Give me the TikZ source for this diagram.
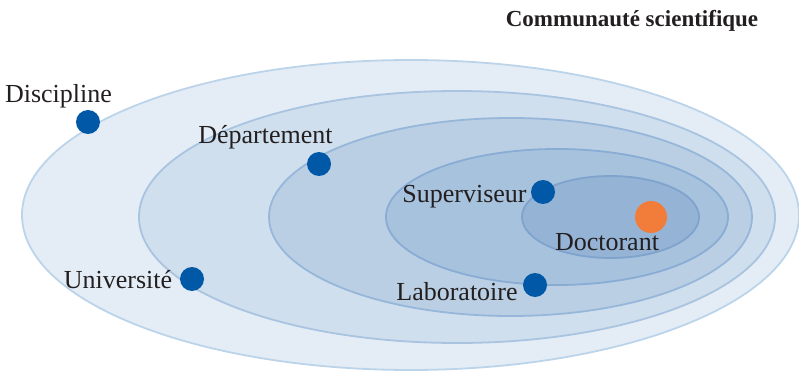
\documentclass[tikz,border=0pt]{standalone}
\usepackage{fontspec}
\setmainfont{Liberation Serif}
\definecolor{f1}{HTML}{E4EDF6}
\definecolor{f2}{HTML}{CFDFED}
\definecolor{f3}{HTML}{BACFE4}
\definecolor{f4}{HTML}{A7C2DD}
\definecolor{f5}{HTML}{95B4D5}
\definecolor{e1}{HTML}{BCD4EA}
\definecolor{e2}{HTML}{A9C4E0}
\definecolor{e3}{HTML}{97B7DA}
\definecolor{e4}{HTML}{88ACD4}
\definecolor{e5}{HTML}{7FA3CD}
\definecolor{dotblue}{HTML}{0058A7}
\definecolor{dotorange}{HTML}{F27C3A}
\definecolor{txt}{HTML}{231F20}
\tikzset{
  ring/.style={line width=1.8pt},
  bluedot/.style={circle, fill=dotblue, minimum size=24pt, inner sep=0pt},
  orangedot/.style={circle, fill=dotorange, minimum size=32pt, inner sep=0pt},
  lbl/.style={inner sep=0pt, text=txt, font=\fontsize{26}{29}\selectfont},
  ttl/.style={inner sep=0pt, text=txt, font=\fontsize{23}{26}\selectfont\bfseries}
}
\begin{document}
\begin{tikzpicture}[x=1pt,y=-1pt]
\useasboundingbox (0,0) rectangle (799,371);
\fill[white] (0,0) rectangle (799,371);
\filldraw[ring, fill=f1, draw=e1] (410.5,215) ellipse [x radius=388.5, y radius=155];
\filldraw[ring, fill=f2, draw=e2] (457,217) ellipse [x radius=318, y radius=126];
\filldraw[ring, fill=f3, draw=e3] (510.5,217) ellipse [x radius=241.5, y radius=99];
\filldraw[ring, fill=f4, draw=e4] (557,217) ellipse [x radius=171, y radius=68];
\filldraw[ring, fill=f5, draw=e5] (610.5,217) ellipse [x radius=88.5, y radius=41];

\node[bluedot] (ddisc) at (88,122) {};
\node[bluedot] (ddep) at (319,164) {};
\node[bluedot] (duniv) at (192,279) {};
\node[bluedot] (dsup) at (543,192) {};
\node[bluedot] (dlab) at (535,285) {};
\node[orangedot] (ddoc) at (651,217) {};

\node[lbl] (ldisc) at (58.5,96) {Discipline};
\node[lbl] (ldep) at (265.5,137) {Département};
\node[lbl] (luniv) at (118,280) {Université};
\node[lbl] (lsup) at (464.5,197) {Superviseur};
\node[lbl] (llab) at (457,292) {Laboratoire};
\node[lbl] (ldoc) at (607,242) {Doctorant};
\node[ttl] (title) at (632,21) {Communauté scientifique};
\end{tikzpicture}
\end{document}
